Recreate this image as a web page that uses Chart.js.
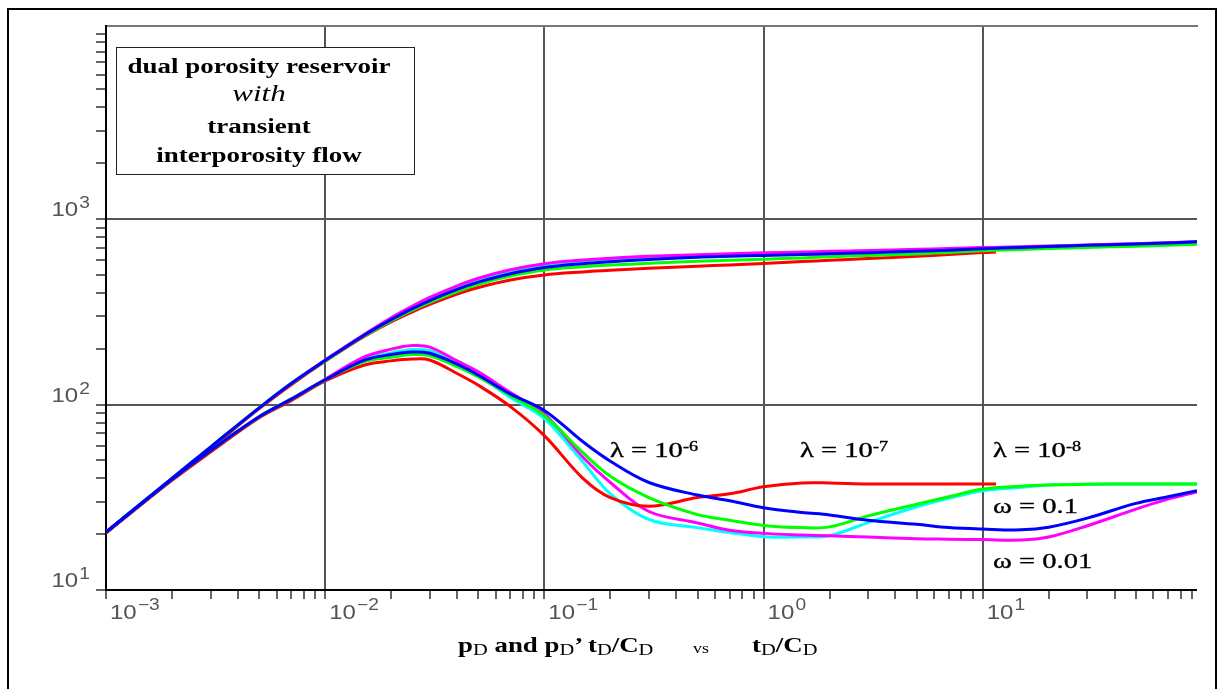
<!DOCTYPE html>
<html>
<head>
<meta charset="utf-8">
<script src="https://cdn.jsdelivr.net/npm/chart.js@4.4.0/dist/chart.umd.min.js"></script>
<style>
  html, body { margin: 0; padding: 0; background: #fff; }
  #wrap { position: relative; width: 1223px; height: 689px; overflow: hidden; }
  #frame { position: absolute; left: 7px; top: 8px; width: 1210px; height: 720px; border: 2px solid #000; box-sizing: border-box; }
  #c { position: absolute; left: 0; top: 0; }
  .ser { position: absolute; font-family: "Liberation Serif", "Times New Roman", serif; line-height: 1; white-space: nowrap; transform-origin: 0 0; transform: scaleX(1.3); color: #000; -webkit-text-stroke: 0.35px #000; }
  .ser .sup { font-size: 14px; position: relative; top: -6px; }
  .ser .sub { font-size: 16px; font-weight: normal; position: relative; top: 3px; -webkit-text-stroke: 0; }
  #box { position: absolute; left: 116px; top: 47px; width: 299px; height: 128px; border: 1.5px solid #222; box-sizing: border-box; background: #fff; }
  #box .bl { position: absolute; left: 0; width: 284px; text-align: center; font-family: "Liberation Serif", "Times New Roman", serif; line-height: 1; white-space: nowrap; transform: scaleX(1.35); transform-origin: 142px 0; font-size: 20px; font-weight: bold; }
  #box .it { font-weight: normal; font-style: italic; font-size: 23px; }
</style>
</head>
<body>
<div id="wrap">
  <div id="frame"></div>
  <canvas id="c" width="1223" height="689"></canvas>
  <div id="box">
    <div class="bl" style="top:8px">dual porosity reservoir</div>
    <div class="bl it" style="top:34px">with</div>
    <div class="bl" style="top:68px">transient</div>
    <div class="bl" style="top:97px">interporosity flow</div>
  </div>
  <div class="ser" style="left:610px;top:439px;font-size:22px">λ = 10<span class="sup">-6</span></div>
  <div class="ser" style="left:800px;top:439px;font-size:22px">λ = 10<span class="sup">-7</span></div>
  <div class="ser" style="left:993px;top:439px;font-size:22px">λ = 10<span class="sup">-8</span></div>
  <div class="ser" style="left:993px;top:495px;font-size:22px">ω = 0.1</div>
  <div class="ser" style="left:993px;top:550px;font-size:22px">ω = 0.01</div>
  <div class="ser" style="left:458px;top:635px;font-size:21px;font-weight:bold;transform:scaleX(1.28);-webkit-text-stroke:0">p<span class="sub">D</span> and p<span class="sub">D</span>’ t<span class="sub">D</span>/C<span class="sub">D</span></div>
  <div class="ser" style="left:693px;top:642px;font-size:14px;transform:scaleX(1.28);-webkit-text-stroke:0">vs</div>
  <div class="ser" style="left:752px;top:635px;font-size:21px;font-weight:bold;transform:scaleX(1.28);-webkit-text-stroke:0">t<span class="sub">D</span>/C<span class="sub">D</span></div>
</div>
<script>
// dimensionless time tD/CD
const tD = [0.001, 0.002, 0.003, 0.005, 0.007, 0.01, 0.015, 0.02, 0.025, 0.03, 0.04, 0.05, 0.07, 0.1, 0.15, 0.2,
            0.3, 0.5, 0.7, 1, 1.5, 2, 3, 5, 7, 10, 15, 20, 30, 50, 70, 95];
// red curves stop a little past 10
const tRed = [0.001, 0.002, 0.003, 0.005, 0.007, 0.01, 0.015, 0.02, 0.025, 0.03, 0.04, 0.05, 0.07, 0.1, 0.15, 0.2,
              0.3, 0.5, 0.7, 1, 1.5, 2, 3, 5, 7, 10, 11.5];

// pressure pD
const pBlue    = [20.5, 40, 59, 96, 130, 173, 236, 287, 329, 364, 418, 457, 507, 548, 575, 589, 606, 623, 630, 637, 644, 650, 659, 670, 680, 693, 704, 712, 722, 735, 744, 754];
const pGreen   = [20.5, 40, 59, 96, 130, 172, 234, 283, 323, 356, 407, 445, 493, 532, 553, 565, 578, 592, 600, 608, 618, 626, 637, 649, 661, 675, 686, 694, 703, 714, 722, 731];
const pRed     = [20.3, 39.5, 58, 95, 128, 171, 232, 279, 316, 347, 394, 428, 470, 500, 519, 530, 543, 557, 566, 576, 590, 600, 613, 630, 645, 660, 664];
const pMagenta = [20.5, 40, 59, 96, 130, 174, 238, 294, 340, 378, 437, 480, 533, 575, 602, 615, 630, 643, 651, 658, 664, 670, 677, 687, 694, 702, 710, 716, 725, 737, 746, 754];
const pCyan    = [20.5, 40, 59, 96, 130, 173, 237, 291, 335, 371, 428, 468, 520, 562, 589, 602, 619, 633, 640, 647, 654, 660, 668, 679, 688, 698, 707, 714, 723, 736, 745, 754];

// derivative pD' tD/CD
const dBlue    = [20.5, 39.5, 56.5, 86, 107, 136, 173, 186, 192, 189, 165, 144, 114, 93, 63, 49.5, 38, 32.5, 30.3, 27.8, 26.2, 25.4, 23.8, 22.6, 21.7, 21.3, 21.1, 21.8, 24.4, 29.3, 31.8, 34.3];
const dGreen   = [20.5, 39.5, 56.5, 86, 107, 136, 170, 180, 186, 183, 160, 141, 112, 87, 55, 41, 31.5, 25.5, 23.8, 22.3, 21.7, 21.9, 25.1, 29, 31.8, 35, 36.3, 36.8, 37.2, 37.3, 37.3, 37.3];
const dRed     = [20.3, 39, 55.5, 85, 105, 134, 163, 172, 176, 174, 147, 127, 97.5, 68, 40, 31.5, 28.3, 31.5, 33, 36, 37.8, 37.8, 37.3, 37.3, 37.3, 37.3, 37.3];
const dMagenta = [20.5, 39.5, 56.5, 86, 107, 137, 180, 199, 208, 204, 172, 150, 116, 89, 52, 38, 26.5, 23, 21, 20.2, 19.8, 19.6, 19.3, 18.9, 18.8, 18.7, 18.6, 19.3, 22.2, 27.3, 30.9, 33.8];
const dCyan    = [20.5, 39.5, 56.5, 86, 107, 136, 175, 190, 198, 195, 168, 144, 109, 84, 49, 33, 24, 21.7, 20.4, 19.4, 19.3, 19.6, 23.1, 28.1, 31.2, 34.3, 35.8, 36.8, 37.2, 37.3, 37.3, 37.3];

// axis decades (labels are 10^n)
const xExponents = [-3, -2, -1, 0, 1];
const yExponents = [1, 2, 3];
const xMajorGrid = [0.01, 0.1, 1, 10];
const yMajorGrid = [100, 1000];
const X_MIN = 0.001, X_MAX = 95;
const Y_MIN = 10, Y_MAX = 11000;

function pairs(xs, ys) {
    return ys.map((y, i) => ({ x: xs[i], y: y }));
}

function logTicks(min, max) {
    const out = [];
    for (let e = Math.floor(Math.log10(min)); e <= Math.ceil(Math.log10(max)); e++) {
        for (let m = 1; m <= 9; m++) {
            const v = m * Math.pow(10, e);
            if (v >= min * 0.9999 && v <= max * 1.0001) out.push({ value: v, major: m === 1 });
        }
    }
    return out;
}

const curves = [
    { color: '#0000ff', t: tD, p: pBlue, d: dBlue },
    { color: '#00ff00', t: tD, p: pGreen, d: dGreen },
    { color: '#ff0000', t: tRed, p: pRed, d: dRed },
    { color: '#ff00ff', t: tD, p: pMagenta, d: dMagenta },
    { color: '#00ffff', t: tD, p: pCyan, d: dCyan },
];

const datasets = [];
curves.forEach(c => {
    datasets.push({ data: pairs(c.t, c.p), borderColor: c.color });
    datasets.push({ data: pairs(c.t, c.d), borderColor: c.color });
});

const isIn = (list, v) => list.some(g => Math.abs(g - v) / g < 1e-6);

// "10" with a raised exponent, drawn at the decade positions of each scale
const powerLabels = {
    id: 'powerLabels',
    afterDraw(chart) {
        const ctx = chart.ctx;
        const xs = chart.scales.x;
        const ys = chart.scales.y;
        const sx = 1.2;
        const big = '20px "Liberation Sans", Arial, sans-serif';
        const small = '16px "Liberation Sans", Arial, sans-serif';
        const exp = e => String(e).replace('-', '\u2212');
        ctx.save();
        ctx.fillStyle = '#555';
        ctx.textBaseline = 'alphabetic';
        ctx.textAlign = 'left';
        ctx.scale(sx, 1);
        xExponents.forEach(e => {
            const px = xs.getPixelForValue(Math.pow(10, e)) + 4;
            ctx.font = big;
            ctx.fillText('10', px / sx, xs.top + 29);
            const w = ctx.measureText('10').width;
            ctx.font = small;
            ctx.fillText(exp(e), px / sx + w + 1, xs.top + 20);
        });
        yExponents.forEach(e => {
            const py = ys.getPixelForValue(Math.pow(10, e));
            const right = 90 / sx;
            ctx.font = small;
            const ws = ctx.measureText(exp(e)).width;
            ctx.fillText(exp(e), right - ws, py - 11);
            ctx.font = big;
            const w = ctx.measureText('10').width;
            ctx.fillText('10', right - ws - 1 - w, py - 3);
        });
        ctx.restore();
    }
};

new Chart(document.getElementById('c'), {
    type: 'line',
    data: { datasets: datasets },
    options: {
        responsive: false,
        animation: false,
        events: [],
        layout: { padding: { left: 0, top: 26, right: 26, bottom: 0 } },
        plugins: { legend: { display: false }, tooltip: { enabled: false } },
        elements: {
            point: { radius: 0 },
            line: { borderWidth: 3, tension: 0.35, fill: false }
        },
        scales: {
            x: {
                type: 'logarithmic', position: 'bottom', min: X_MIN, max: X_MAX, bounds: 'data',
                afterBuildTicks: s => { s.ticks = logTicks(X_MIN, X_MAX); },
                afterFit: s => { s.height = 99; },
                ticks: { display: false, autoSkip: false },
                grid: {
                    color: '#555',
                    lineWidth: c => (c.tick && isIn(xMajorGrid, c.tick.value)) ? 2 : 0,
                    tickColor: '#333', tickWidth: 1.5, tickLength: 9
                },
                border: { display: true, color: '#000', width: 2 }
            },
            xTop: {
                type: 'logarithmic', position: 'top', min: X_MIN, max: X_MAX, bounds: 'data',
                afterFit: s => { s.height = 0; },
                ticks: { display: false },
                grid: { display: false, drawTicks: false },
                border: { display: true, color: '#777', width: 2 }
            },
            y: {
                type: 'logarithmic', position: 'left', min: Y_MIN, max: Y_MAX, bounds: 'data',
                afterBuildTicks: s => { s.ticks = logTicks(Y_MIN, Y_MAX); },
                afterFit: s => { s.width = 106; },
                ticks: { display: false, autoSkip: false },
                grid: {
                    color: '#555',
                    lineWidth: c => (c.tick && isIn(yMajorGrid, c.tick.value)) ? 2 : 0,
                    tickColor: '#333', tickWidth: 1.5, tickLength: 10
                },
                border: { display: true, color: '#000', width: 2 }
            }
        }
    },
    plugins: [powerLabels]
});
</script>
</body>
</html>
